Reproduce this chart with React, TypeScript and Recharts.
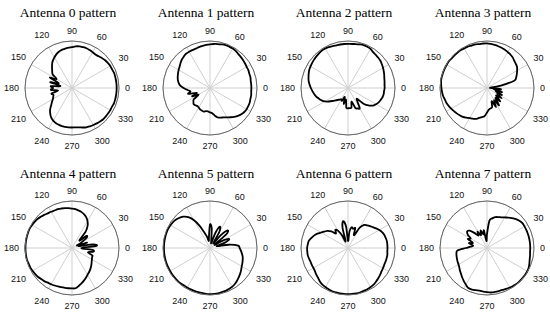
import React from 'react';
import { RadarChart, Radar, PolarGrid, PolarAngleAxis, PolarRadiusAxis } from 'recharts';

const ANGLES = [
  0, 5, 10, 15, 20, 25, 30, 35, 40, 45, 50, 55, 60, 65, 70, 75, 80, 85,
  90, 95, 100, 105, 110, 115, 120, 125, 130, 135, 140, 145, 150, 155, 160, 165, 170, 175,
  180, 185, 190, 195, 200, 205, 210, 215, 220, 225, 230, 235, 240, 245, 250, 255, 260, 265,
  270, 275, 280, 285, 290, 295, 300, 305, 310, 315, 320, 325, 330, 335, 340, 345, 350, 355,
];

const TICK_ANGLES = [0, 30, 60, 90, 120, 150, 180, 210, 240, 270, 300, 330];

const TITLES = [
  'Antenna 0 pattern', 'Antenna 1 pattern', 'Antenna 2 pattern', 'Antenna 3 pattern',
  'Antenna 4 pattern', 'Antenna 5 pattern', 'Antenna 6 pattern', 'Antenna 7 pattern',
];

// radial gain (fraction of outer circle), one value every 5 degrees starting at 0
const ANT0 = [
  0.95, 0.95, 0.95, 0.95, 0.94, 0.94, 0.93, 0.92, 0.9, 0.88, 0.87, 0.88, 0.89, 0.9, 0.9, 0.9, 0.89, 0.87,
  0.86, 0.85, 0.84, 0.82, 0.79, 0.75, 0.71, 0.66, 0.6, 0.55, 0.5, 0.38, 0.52, 0.3, 0.48, 0.25, 0.45, 0.4,
  0.45, 0.3, 0.45, 0.42, 0.44, 0.47, 0.52, 0.58, 0.66, 0.72, 0.77, 0.8, 0.82, 0.83, 0.84, 0.84, 0.84, 0.84,
  0.84, 0.85, 0.87, 0.89, 0.9, 0.91, 0.92, 0.93, 0.94, 0.94, 0.94, 0.94, 0.94, 0.95, 0.95, 0.95, 0.95, 0.95,
];
const ANT1 = [
  0.88, 0.88, 0.89, 0.89, 0.9, 0.9, 0.91, 0.92, 0.93, 0.94, 0.96, 0.97, 0.97, 0.97, 0.96, 0.95, 0.94, 0.93,
  0.92, 0.91, 0.9, 0.89, 0.89, 0.89, 0.89, 0.87, 0.85, 0.82, 0.79, 0.77, 0.75, 0.73, 0.71, 0.68, 0.64, 0.56,
  0.48, 0.42, 0.48, 0.3, 0.42, 0.28, 0.42, 0.46, 0.49, 0.48, 0.47, 0.48, 0.5, 0.51, 0.52, 0.5, 0.5, 0.52,
  0.54, 0.6, 0.65, 0.67, 0.69, 0.72, 0.76, 0.8, 0.84, 0.87, 0.89, 0.9, 0.9, 0.9, 0.89, 0.89, 0.88, 0.88,
];
const ANT2 = [
  0.78, 0.79, 0.8, 0.82, 0.84, 0.86, 0.88, 0.9, 0.91, 0.92, 0.93, 0.96, 0.97, 0.97, 0.96, 0.95, 0.94, 0.94,
  0.94, 0.94, 0.94, 0.95, 0.96, 0.97, 0.97, 0.96, 0.95, 0.94, 0.93, 0.92, 0.91, 0.89, 0.87, 0.85, 0.82, 0.79,
  0.76, 0.73, 0.7, 0.66, 0.62, 0.57, 0.5, 0.43, 0.37, 0.33, 0.3, 0.28, 0.3, 0.2, 0.35, 0.25, 0.42, 0.43,
  0.43, 0.42, 0.3, 0.45, 0.48, 0.5, 0.35, 0.3, 0.48, 0.58, 0.65, 0.69, 0.72, 0.74, 0.76, 0.77, 0.77, 0.78,
];
const ANT3 = [
  0.08, 0.3, 0.6, 0.66, 0.7, 0.74, 0.78, 0.8, 0.82, 0.85, 0.87, 0.88, 0.9, 0.91, 0.92, 0.93, 0.94, 0.95,
  0.95, 0.95, 0.96, 0.96, 0.97, 0.97, 0.98, 0.98, 0.98, 0.98, 0.99, 0.99, 0.99, 0.99, 0.99, 0.99, 0.98, 0.97,
  0.96, 0.95, 0.93, 0.92, 0.9, 0.88, 0.86, 0.84, 0.82, 0.8, 0.77, 0.74, 0.72, 0.7, 0.66, 0.63, 0.6, 0.52,
  0.46, 0.44, 0.42, 0.3, 0.45, 0.3, 0.45, 0.28, 0.4, 0.25, 0.38, 0.25, 0.35, 0.2, 0.33, 0.15, 0.3, 0.1,
];
const ANT4 = [
  0.52, 0.45, 0.15, 0.34, 0.12, 0.22, 0.38, 0.4, 0.22, 0.45, 0.58, 0.66, 0.72, 0.76, 0.79, 0.81, 0.83, 0.84,
  0.85, 0.86, 0.87, 0.88, 0.88, 0.89, 0.9, 0.92, 0.94, 0.96, 0.97, 0.98, 0.99, 0.99, 0.99, 0.99, 0.99, 0.99,
  0.99, 0.99, 0.99, 0.98, 0.98, 0.97, 0.96, 0.95, 0.93, 0.92, 0.9, 0.89, 0.88, 0.87, 0.86, 0.86, 0.86, 0.86,
  0.86, 0.82, 0.78, 0.74, 0.7, 0.66, 0.63, 0.6, 0.57, 0.54, 0.51, 0.49, 0.47, 0.46, 0.35, 0.46, 0.44, 0.2,
];
const ANT5 = [
  0.6, 0.4, 0.15, 0.35, 0.45, 0.3, 0.12, 0.45, 0.53, 0.35, 0.12, 0.4, 0.5, 0.35, 0.12, 0.15, 0.42, 0.5,
  0.25, 0.15, 0.25, 0.35, 0.52, 0.68, 0.8, 0.87, 0.91, 0.94, 0.96, 0.97, 0.98, 0.98, 0.98, 0.98, 0.98, 0.98,
  0.98, 0.98, 0.98, 0.98, 0.98, 0.98, 0.98, 0.98, 0.98, 0.98, 0.97, 0.97, 0.97, 0.97, 0.97, 0.97, 0.98, 0.98,
  0.98, 0.98, 0.97, 0.97, 0.96, 0.95, 0.93, 0.9, 0.87, 0.84, 0.81, 0.78, 0.76, 0.74, 0.72, 0.69, 0.66, 0.63,
];
const ANT6 = [
  0.84, 0.84, 0.83, 0.82, 0.8, 0.77, 0.73, 0.69, 0.66, 0.63, 0.6, 0.5, 0.3, 0.45, 0.42, 0.45, 0.35, 0.15,
  0.45, 0.58, 0.45, 0.15, 0.3, 0.42, 0.47, 0.4, 0.5, 0.57, 0.61, 0.66, 0.72, 0.77, 0.81, 0.85, 0.86, 0.87,
  0.87, 0.87, 0.86, 0.85, 0.85, 0.85, 0.86, 0.88, 0.9, 0.93, 0.95, 0.96, 0.97, 0.98, 0.98, 0.98, 0.98, 0.98,
  0.98, 0.98, 0.98, 0.97, 0.97, 0.96, 0.95, 0.93, 0.91, 0.89, 0.87, 0.86, 0.85, 0.85, 0.85, 0.85, 0.84, 0.84,
];
const ANT7 = [
  0.92, 0.92, 0.92, 0.92, 0.92, 0.92, 0.92, 0.9, 0.87, 0.83, 0.79, 0.75, 0.72, 0.7, 0.68, 0.64, 0.58, 0.3,
  0.15, 0.38, 0.3, 0.4, 0.3, 0.4, 0.32, 0.42, 0.52, 0.55, 0.5, 0.4, 0.45, 0.32, 0.4, 0.3, 0.35, 0.45,
  0.63, 0.66, 0.67, 0.68, 0.69, 0.7, 0.72, 0.75, 0.78, 0.82, 0.86, 0.9, 0.94, 0.94, 0.93, 0.92, 0.93, 0.94,
  0.95, 0.95, 0.95, 0.95, 0.96, 0.97, 0.98, 0.99, 0.99, 0.99, 0.99, 0.99, 0.98, 0.96, 0.94, 0.93, 0.92, 0.92,
];

const SERIES = [ANT0, ANT1, ANT2, ANT3, ANT4, ANT5, ANT6, ANT7];

const CENTER_X = [72, 210, 348, 487];
const CENTER_Y = [88, 248];
const ROW_TOP = [0, 159];
const TITLE_Y = [17, 178];
const R = 47;
const CW = 150;
const CH = 159;

const makeTick = (cx: number, cy: number) => (props: any) => {
  const a = Number(props.payload?.value);
  if (!TICK_ANGLES.includes(a)) return <g />;
  const rad = (a * Math.PI) / 180;
  const c = Math.cos(rad);
  const s = Math.sin(rad);
  const label = String(a);
  const w = label.length * 5.0;
  const h = 9;
  const dist = R + 6 + (w / 2) * Math.abs(c) + (h / 2) * Math.abs(s);
  const x = cx + dist * c;
  const y = cy - dist * s;
  return (
    <text
      x={x}
      y={y}
      textAnchor="middle"
      dominantBaseline="central"
      fontFamily="'Liberation Sans', Arial, sans-serif"
      fontSize={9}
      fill="#111"
    >
      {label}
    </text>
  );
};

// closed Catmull-Rom curve through the points Recharts computed for the Radar
const SmoothShape = (props: any) => {
  const pts: { x: number; y: number }[] = props.points || [];
  const n = pts.length;
  if (n < 3) return <g />;
  let d = `M${pts[0].x},${pts[0].y}`;
  for (let i = 0; i < n; i++) {
    const p0 = pts[(i - 1 + n) % n];
    const p1 = pts[i];
    const p2 = pts[(i + 1) % n];
    const p3 = pts[(i + 2) % n];
    const c1x = p1.x + (p2.x - p0.x) / 6;
    const c1y = p1.y + (p2.y - p0.y) / 6;
    const c2x = p2.x - (p3.x - p1.x) / 6;
    const c2y = p2.y - (p3.y - p1.y) / 6;
    d += ` C${c1x},${c1y} ${c2x},${c2y} ${p2.x},${p2.y}`;
  }
  d += ' Z';
  return <path d={d} fill="none" stroke="#000" strokeWidth={1.8} strokeLinejoin="round" />;
};

function Pattern({ idx }: { idx: number }) {
  const col = idx % 4;
  const row = Math.floor(idx / 4);
  const left = CENTER_X[col] - CW / 2;
  const top = ROW_TOP[row];
  const cx = CW / 2;
  const cy = CENTER_Y[row] - top;
  const values = SERIES[idx];
  const data = ANGLES.map((angle, i) => ({ angle, r: values[i] }));
  return (
    <div style={{ position: 'absolute', left, top, width: CW, height: CH }}>
      <RadarChart
        width={CW}
        height={CH}
        cx={cx}
        cy={cy}
        outerRadius={R}
        startAngle={0}
        endAngle={360}
        data={data}
        margin={{ top: 0, right: 0, bottom: 0, left: 0 }}
      >
        <PolarGrid
          gridType="circle"
          polarAngles={TICK_ANGLES}
          polarRadius={[R]}
          stroke="#cfcfcf"
          strokeWidth={1}
        />
        <PolarAngleAxis
          dataKey="angle"
          tick={makeTick(cx, cy)}
          tickLine={false}
          axisLine={{ stroke: '#666', strokeWidth: 1 }}
          axisLineType="circle"
        />
        <PolarRadiusAxis domain={[0, 1]} tick={false} axisLine={false} angle={90} />
        <Radar
          dataKey="r"
          stroke="#000"
          strokeWidth={1.8}
          fill="none"
          fillOpacity={0}
          dot={false}
          shape={SmoothShape}
          isAnimationActive={false}
        />
      </RadarChart>
    </div>
  );
}

export default function App() {
  return (
    <div
      style={{
        position: 'absolute',
        left: 0,
        top: 0,
        width: 550,
        height: 318,
        background: '#fff',
        overflow: 'hidden',
      }}
    >
      {SERIES.map((_, i) => (
        <Pattern key={i} idx={i} />
      ))}
      <svg width={550} height={318} style={{ position: 'absolute', left: 0, top: 0, pointerEvents: 'none' }}>
        {TITLES.map((t, i) => (
          <text
            key={t}
            x={CENTER_X[i % 4] - 4}
            y={TITLE_Y[Math.floor(i / 4)]}
            textAnchor="middle"
            fontFamily="'Liberation Serif', 'Times New Roman', serif"
            fontSize={13.5}
            fill="#000"
          >
            {t}
          </text>
        ))}
      </svg>
    </div>
  );
}
